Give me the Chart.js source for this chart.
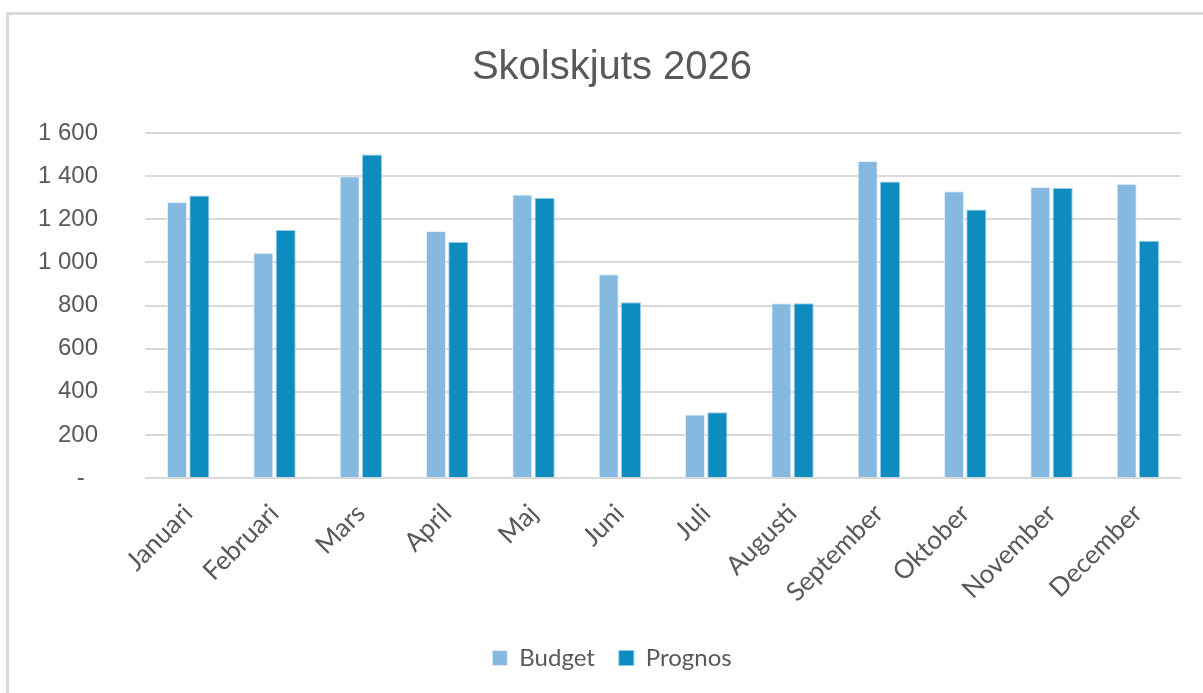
<!DOCTYPE html>
<html>
<head>
<meta charset="utf-8">
<script src="https://cdn.jsdelivr.net/npm/chart.js@4.4.1/dist/chart.umd.min.js"></script>
<style>
  html, body { margin: 0; padding: 0; background: #ffffff; }
  #wrap { position: relative; width: 1203px; height: 693px; overflow: hidden; }
  #frame { position: absolute; left: 6px; top: 12px; width: 1300px; height: 800px;
           border-top: 3px solid #D9D9D9; border-left: 3px solid #D9D9D9; box-sizing: border-box; }
  #c { position: absolute; left: 0; top: 0; }
</style>
</head>
<body>
<div id="wrap">
  <div id="frame"></div>
  <canvas id="c" width="1203" height="693"></canvas>
</div>
<script>
const chartTitle = 'Skolskjuts 2026';
const months = ['Januari','Februari','Mars','April','Maj','Juni','Juli','Augusti','September','Oktober','November','December'];
const budget  = [1280, 1045, 1400, 1145, 1315, 945, 295, 810, 1470, 1330, 1350, 1365];
const prognos = [1310, 1150, 1500, 1095, 1300, 815, 305, 810, 1375, 1245, 1345, 1100];
const seriesNames = ['Budget', 'Prognos'];
const yTicks = [0, 200, 400, 600, 800, 1000, 1200, 1400, 1600];

const textColor = '#595959';
const gridColor = '#D9D9D9';

function fmt(v) {
  if (v === 0) return '-  ';
  return String(v).replace(/\B(?=(\d{3})+(?!\d))/g, ' ');
}

const unclipY = {
  id: 'unclipY',
  afterLayout(chart) { chart.scales.y.left = 0; }
};

new Chart(document.getElementById('c'), {
  type: 'bar',
  data: {
    labels: months,
    datasets: [
      { label: seriesNames[0], data: budget, backgroundColor: '#86B9E0', borderColor: 'rgba(225,238,248,0.9)', borderWidth: 1,
        categoryPercentage: 0.517, barPercentage: 0.9 },
      { label: seriesNames[1], data: prognos, backgroundColor: '#0E8BBF', borderColor: 'rgba(140,200,228,0.9)', borderWidth: 1,
        categoryPercentage: 0.517, barPercentage: 0.9 }
    ]
  },
  plugins: [unclipY],
  options: {
    responsive: false,
    animation: false,
    devicePixelRatio: 1,
    layout: { padding: { left: 43, right: 22, top: 0, bottom: 13 } },
    plugins: {
      tooltip: { enabled: false },
      title: {
        display: true,
        text: chartTitle,
        color: textColor,
        font: { family: 'Liberation Sans, sans-serif', size: 40, weight: 'normal', lineHeight: 1.2 },
        padding: { top: 44, bottom: 41 }
      },
      legend: {
        position: 'bottom',
        labels: {
          color: textColor,
          font: { family: 'Lato, Liberation Sans, sans-serif', size: 24, lineHeight: 1 },
          boxWidth: 15, boxHeight: 15, padding: 24
        }
      }
    },
    scales: {
      x: {
        grid: { display: false },
        border: { display: false },
        ticks: {
          color: textColor,
          font: { family: 'Lato, Liberation Sans, sans-serif', size: 26 },
          maxRotation: 45, minRotation: 45, padding: 12, autoSkip: false
        },
        afterFit: (s) => { s.height = 144; }
      },
      y: {
        min: yTicks[0], max: yTicks[yTicks.length - 1],
        grid: { color: gridColor, lineWidth: 2, drawTicks: false },
        border: { display: false },
        afterBuildTicks: (s) => { s.ticks = yTicks.map(v => ({ value: v })); },
        ticks: {
          color: textColor,
          font: { family: 'Liberation Sans, sans-serif', size: 24 },
          padding: 47,
          callback: (v) => fmt(v)
        },
        afterFit: (s) => { s.width = 102; }
      }
    }
  }
});
</script>
</body>
</html>
